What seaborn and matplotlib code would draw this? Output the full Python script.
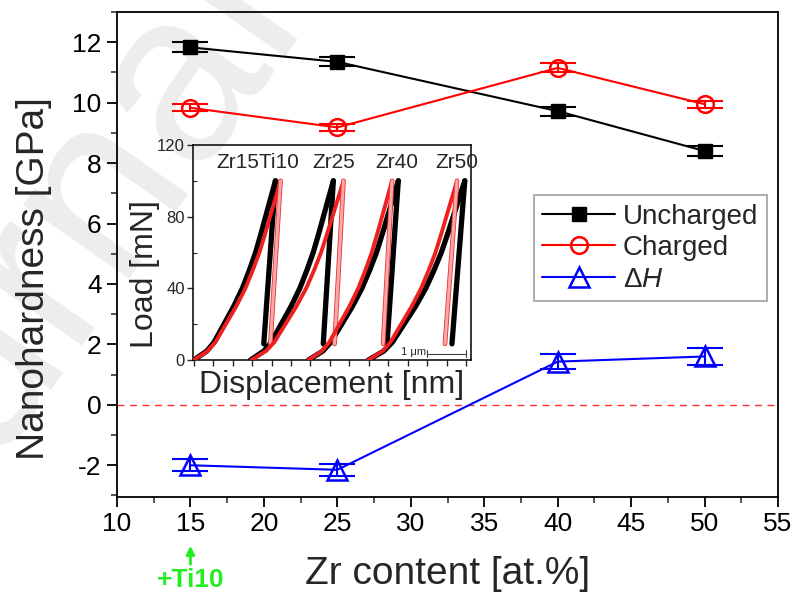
import matplotlib
matplotlib.use("Agg")
import matplotlib.pyplot as plt
import matplotlib.patheffects as pe
from matplotlib.ticker import MultipleLocator, NullFormatter
import seaborn as sns


# main chart: nanohardness vs Zr content
zr_content = [15, 25, 40, 50]
hardness_uncharged = [11.83, 11.35, 9.72, 8.40]
hardness_charged = [9.83, 9.18, 11.15, 9.95]
delta_h = [-2.00, -2.15, 1.43, 1.60]
err_uncharged = [0.17, 0.15, 0.15, 0.15]
err_charged = [0.12, 0.12, 0.15, 0.12]
err_delta = [0.20, 0.20, 0.25, 0.28]

# inset: load-displacement curves (displacement in nm, load in mN)
inset_names = ["Zr15Ti10", "Zr25", "Zr40", "Zr50"]
loading_load = [0, 5, 10, 20, 30, 40, 50, 60, 70, 80, 90, 100]
unloading_load = [100, 9]
uncharged_loading = [
    [0, 336, 525, 777, 1029, 1250, 1428, 1590, 1722, 1848, 1974, 2100],
    [1460, 1801, 1993, 2248, 2504, 2727, 2908, 3072, 3207, 3334, 3462, 3590],
    [2950, 3320, 3528, 3805, 4082, 4324, 4521, 4699, 4844, 4983, 5121, 5260],
    [4490, 4887, 5110, 5408, 5705, 5966, 6176, 6367, 6524, 6672, 6821, 6970],
]
uncharged_unloading = [[2100, 1800], [3590, 3330], [5260, 4970], [6970, 6640]]
charged_loading = [
    [0, 357, 558, 825, 1093, 1327, 1516, 1688, 1829, 1962, 2096, 2230],
    [1480, 1859, 2073, 2357, 2641, 2890, 3092, 3274, 3423, 3566, 3708, 3850],
    [2950, 3294, 3488, 3746, 4004, 4229, 4412, 4578, 4713, 4842, 4971, 5100],
    [4490, 4855, 5060, 5334, 5607, 5847, 6040, 6216, 6360, 6496, 6633, 6770],
]
charged_unloading = [[2230, 1970], [3850, 3620], [5100, 4870], [6770, 6460]]
label_positions = [1640, 3590, 5230, 6770]


def main() -> None:
    sns.set_theme(style="ticks")
    plt.rcParams["font.family"] = ["Liberation Sans", "DejaVu Sans"]
    plt.rcParams["mathtext.fontset"] = "custom"
    plt.rcParams["mathtext.rm"] = "Liberation Sans"
    plt.rcParams["mathtext.it"] = "Liberation Sans:italic"
    plt.rcParams["axes.unicode_minus"] = False

    fig = plt.figure(figsize=(7.97, 6.0), dpi=100)
    # faint background watermark, kept behind the axes
    fig.text(-0.192, -0.137, "Journal Pre-proof", rotation=55,
             rotation_mode="anchor", ha="left", va="baseline", fontsize=176,
             color="#ededed", zorder=-5)

    ax = fig.add_axes([117 / 797, 1 - 497 / 600, 661 / 797, 485 / 600])
    ax.patch.set_alpha(0)

    ax.axhline(0, color="#ff3030", lw=1.0, ls=(0, (5, 4)), zorder=1)

    ax.errorbar(zr_content, hardness_uncharged, yerr=err_uncharged, fmt="none",
                ecolor="black", elinewidth=1.5, capsize=13, capthick=1.5, zorder=3)
    ax.errorbar(zr_content, hardness_charged, yerr=err_charged, fmt="none",
                ecolor="red", elinewidth=1.5, capsize=13, capthick=1.5, zorder=3)
    ax.errorbar(zr_content, delta_h, yerr=err_delta, fmt="none",
                ecolor="blue", elinewidth=1.5, capsize=13, capthick=1.5, zorder=3)

    sns.lineplot(x=zr_content, y=hardness_uncharged, color="black", lw=1.5,
                 marker="s", markersize=10, markeredgecolor="black",
                 markeredgewidth=1, label="Uncharged", ax=ax, zorder=4)
    sns.lineplot(x=zr_content, y=hardness_charged, color="red", lw=1.5,
                 marker="o", markersize=12, markerfacecolor="none",
                 markeredgecolor="red", markeredgewidth=1.8, label="Charged",
                 ax=ax, zorder=4)
    sns.lineplot(x=zr_content, y=delta_h, color="blue", lw=1.5,
                 marker="^", markersize=14, markerfacecolor="none",
                 markeredgecolor="blue", markeredgewidth=1.8,
                 label=r"$\Delta H$", ax=ax, zorder=4)

    ax.set_xlim(10, 55)
    ax.set_ylim(-3.05, 13.0)
    ax.xaxis.set_major_locator(MultipleLocator(5))
    ax.xaxis.set_minor_locator(MultipleLocator(2.5))
    ax.yaxis.set_major_locator(MultipleLocator(2))
    ax.yaxis.set_minor_locator(MultipleLocator(1))
    ax.tick_params(which="major", direction="out", length=7, width=1.3,
                   labelsize=19, colors="black", pad=4)
    ax.tick_params(which="minor", direction="out", length=4, width=1.1)
    ax.tick_params(top=False, right=False, which="both")
    for spine in ax.spines.values():
        spine.set_visible(True)
        spine.set_color("black")
        spine.set_linewidth(1.3)

    ax.set_xlabel("Zr content [at.%]", fontsize=28, labelpad=14)
    ax.set_ylabel("Nanohardness [GPa]", fontsize=28)
    ax.yaxis.set_label_coords(-0.098, 0.45)

    leg = ax.legend(loc="upper right", bbox_to_anchor=(0.983, 0.622),
                    fontsize=20, frameon=True, fancybox=False, edgecolor="#888888",
                    handlelength=2.6, handletextpad=0.3, borderpad=0.3,
                    labelspacing=0.2, borderaxespad=0)
    leg.get_frame().set_linewidth(1.2)

    ax.annotate("", xy=(15, 57), xytext=(15, 33),
                xycoords=("data", "figure pixels"),
                textcoords=("data", "figure pixels"),
                arrowprops=dict(arrowstyle="-|>", color="#22ee22", lw=2,
                                mutation_scale=12),
                annotation_clip=False)
    ax.annotate("+Ti10", xy=(15, 20), xycoords=("data", "figure pixels"),
                ha="center", va="center", fontsize=19, fontweight="bold",
                color="#22ee22", annotation_clip=False)

    # inset
    ins = fig.add_axes([193 / 797, 1 - 360 / 600, 278 / 797, 215 / 600])
    ins.patch.set_alpha(0)
    for i in range(len(inset_names)):
        ins.plot(uncharged_loading[i], loading_load, color="black", lw=3.8,
                 solid_capstyle="round", zorder=2)
        ins.plot(uncharged_unloading[i], unloading_load, color="black", lw=3.8,
                 solid_capstyle="round", zorder=2)
        ins.plot(charged_loading[i], loading_load, color="#ee2020", lw=2.8,
                 solid_capstyle="round", zorder=3)
        ins.plot(charged_unloading[i], unloading_load, color="#f7a8a8", lw=2.2,
                 solid_capstyle="round", zorder=3,
                 path_effects=[pe.Stroke(linewidth=3.4, foreground="#ee3030"),
                               pe.Normal()])
        ins.text(label_positions[i], 110, inset_names[i], ha="center",
                 va="center", fontsize=15)

    ins.plot([6000, 7000], [3.5, 3.5], color="#444444", lw=0.8)
    ins.plot([6000, 6000], [1.5, 5.5], color="#444444", lw=0.8)
    ins.plot([7000, 7000], [1.5, 5.5], color="#444444", lw=0.8)
    ins.text(5980, 4.5, "1 μm", ha="right", va="center", fontsize=8)

    ins.set_xlim(-20, 7130)
    ins.set_ylim(0, 120)
    ins.xaxis.set_major_locator(MultipleLocator(500))
    ins.xaxis.set_major_formatter(NullFormatter())
    ins.yaxis.set_major_locator(MultipleLocator(40))
    ins.yaxis.set_minor_locator(MultipleLocator(20))
    ins.tick_params(which="major", direction="out", length=4, width=1,
                    labelsize=12, pad=2)
    ins.tick_params(which="minor", direction="in", length=3, width=0.8)
    ins.tick_params(top=False, right=False, which="both")
    for spine in ins.spines.values():
        spine.set_visible(True)
        spine.set_color("black")
        spine.set_linewidth(1.1)
    ins.set_xlabel("Displacement [nm]", fontsize=23, labelpad=1)
    ins.set_ylabel("Load [mN]", fontsize=23)
    ins.yaxis.set_label_coords(-0.12, 0.40)

    fig.savefig("out.png", dpi=100)
    plt.close(fig)


if __name__ == "__main__":
    main()
